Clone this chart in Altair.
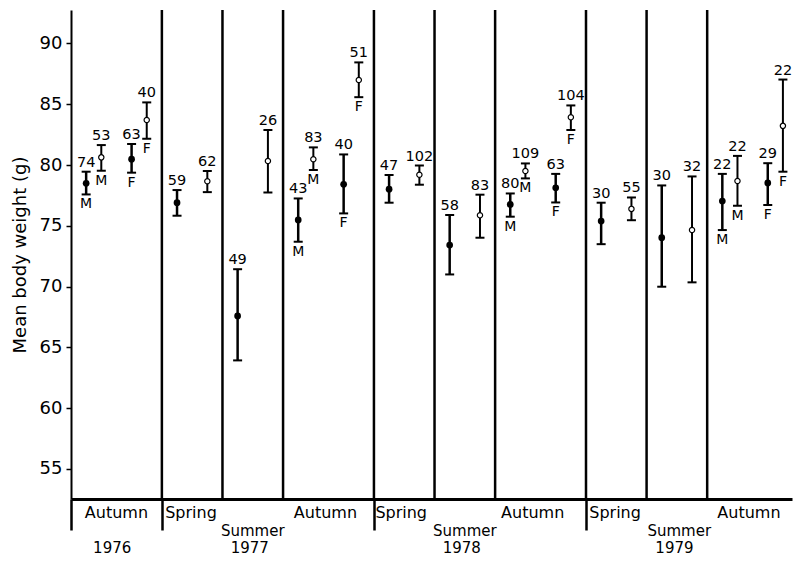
import altair as alt
import pandas as pd

# ---- data ----
x_pos = [0.25, 0.5, 1.0, 1.25, 1.75, 2.25, 2.75, 3.25, 3.75, 4.0, 4.5, 4.75, 5.25, 5.75,
         6.25, 6.75, 7.25, 7.5, 8.0, 8.25, 8.75, 9.25, 9.75, 10.25, 10.75, 11.0, 11.5, 11.75]
mean_wt = [78.49, 80.63, 80.48, 83.70, 76.90, 78.67, 67.59, 80.33, 75.48, 80.48, 78.41, 86.99, 78.01, 79.20,
           73.42, 75.87, 76.76, 79.51, 78.13, 83.93, 75.39, 76.39, 74.02, 74.65, 77.04, 78.69, 78.53, 83.22]
upper_wt = [79.45, 81.64, 81.73, 85.15, 77.94, 79.51, 71.43, 82.88, 77.25, 81.45, 80.87, 88.44, 79.18, 79.96,
            75.89, 77.56, 77.66, 80.13, 79.27, 84.90, 76.90, 77.33, 78.32, 79.06, 79.27, 80.75, 80.15, 87.03]
lower_wt = [77.58, 79.53, 79.37, 82.16, 75.83, 77.77, 63.93, 77.74, 73.69, 79.59, 76.02, 85.58, 76.90, 78.38,
            71.00, 74.02, 75.75, 78.90, 76.92, 82.88, 73.49, 75.46, 69.99, 70.35, 74.65, 76.65, 76.71, 79.45]
n_size = ["74", "53", "63", "40", "59", "62", "49", "26", "43", "83", "40", "51", "47", "102",
          "58", "83", "80", "109", "63", "104", "30", "55", "30", "32", "22", "22", "29", "22"]
sex = ["M", "M", "F", "F", "", "", "", "", "M", "M", "F", "F", "", "",
       "", "", "M", "M", "F", "F", "", "", "", "", "M", "M", "F", "F"]
marker = ["filled", "open", "filled", "open", "filled", "open", "filled", "open", "filled", "open",
          "filled", "open", "filled", "open", "filled", "open", "filled", "open", "filled", "open",
          "filled", "open", "filled", "open", "filled", "open", "filled", "open"]

season_bounds = [1.5, 2.5, 3.5, 5.0, 6.0, 7.0, 8.5, 9.5, 10.5]
year_bounds = [0, 1.5, 5.0, 8.5]
season_names = ["Autumn", "Spring", "Autumn", "Spring", "Autumn", "Spring", "Autumn"]
season_x = [0.75, 1.98, 4.2, 5.45, 7.62, 8.98, 11.19]
summer_x = [3.0, 6.5, 10.04]
years = ["1976", "1977", "1978", "1979"]
year_x = [0.68, 2.95, 6.45, 9.96]
y_ticks = [55, 60, 65, 70, 75, 80, 85, 90]

df = pd.DataFrame({"x": x_pos, "mean": mean_wt, "hi": upper_wt, "lo": lower_wt,
                   "n": n_size, "sex": sex, "marker": marker})
df_f = df[df.marker == "filled"]
df_o = df[df.marker == "open"]
df_sex = df[df.sex != ""]
bounds_df = pd.DataFrame({"x": season_bounds})
seasons_df = pd.DataFrame({"x": season_x, "label": season_names})
summer_df = pd.DataFrame({"x": summer_x, "label": ["Summer"] * len(summer_x)})
years_df = pd.DataFrame({"x": year_x, "label": years})

FONT = "DejaVu Sans"
xs = alt.Scale(domain=[0, 11.9], nice=False, zero=False)
ys = alt.Scale(domain=[52.53, 92.75], nice=False, zero=False)
xaxis = alt.Axis(values=year_bounds, labels=False, title=None, tickSize=31, tickWidth=2.5,
                 tickColor="black", domainColor="black", domainWidth=3, grid=False)
yaxis = alt.Axis(values=y_ticks, title="Mean body weight (g)", tickSize=5, tickWidth=1.5,
                 tickColor="black", domainColor="black", domainWidth=2, labelFont=FONT,
                 labelFontSize=18, labelColor="black", labelPadding=4, titleFont=FONT,
                 titleFontSize=18, titleFontWeight="normal", titleColor="black",
                 titlePadding=10, grid=False)


def X():
    return alt.X("x:Q", scale=xs, axis=xaxis)


def Y(field):
    return alt.Y(field, type="quantitative", scale=ys, axis=yaxis)


def YD(v):
    return alt.YDatum(v, scale=ys, axis=yaxis)


seps = alt.Chart(bounds_df).mark_rule(color="black", strokeWidth=2.5).encode(x=X())

bars_f = alt.Chart(df_f).mark_rule(color="black", strokeWidth=2.5).encode(x=X(), y=Y("lo"), y2="hi")
bars_o = alt.Chart(df_o).mark_rule(color="black", strokeWidth=2).encode(x=X(), y=Y("lo"), y2="hi")
cap_hi = alt.Chart(df).mark_tick(orient="horizontal", size=9, thickness=2, color="black",
                                 opacity=1).encode(x=X(), y=Y("hi"))
cap_lo = alt.Chart(df).mark_tick(orient="horizontal", size=9, thickness=2, color="black",
                                 opacity=1).encode(x=X(), y=Y("lo"))
pts_f = alt.Chart(df_f).mark_point(shape="circle", filled=True, color="black", size=45,
                                   opacity=1).encode(x=X(), y=Y("mean"))
pts_o = alt.Chart(df_o).mark_point(shape="circle", filled=True, fill="white", stroke="black",
                                   strokeWidth=1.2, size=28, opacity=1).encode(x=X(), y=Y("mean"))
n_text = alt.Chart(df).mark_text(font=FONT, fontSize=14.5, baseline="alphabetic", dy=-5,
                                 color="black").encode(x=X(), y=Y("hi"), text="n:N")
sex_text = alt.Chart(df_sex).mark_text(font=FONT, fontSize=14, baseline="top", dy=3,
                                       color="black").encode(x=X(), y=Y("lo"), text="sex:N")
season_text = alt.Chart(seasons_df).mark_text(font=FONT, fontSize=16, baseline="alphabetic",
                                              color="black").encode(x=X(), y=YD(50.99), text="label:N")
summer_text = alt.Chart(summer_df).mark_text(font=FONT, fontSize=15, baseline="alphabetic",
                                             color="black").encode(x=X(), y=YD(49.51), text="label:N")
year_text = alt.Chart(years_df).mark_text(font=FONT, fontSize=15, baseline="alphabetic",
                                          color="black").encode(x=X(), y=YD(48.12), text="label:N")

chart = alt.layer(
    seps, bars_f, bars_o, cap_hi, cap_lo, pts_f, pts_o, n_text, sex_text,
    season_text, summer_text, year_text
).properties(
    width=721, height=489,
    padding={"left": 3, "top": 0, "right": 0, "bottom": 0},
    background="white",
).configure_view(stroke=None)

chart.save("out.html", embed_options={"renderer": "svg", "actions": False})
